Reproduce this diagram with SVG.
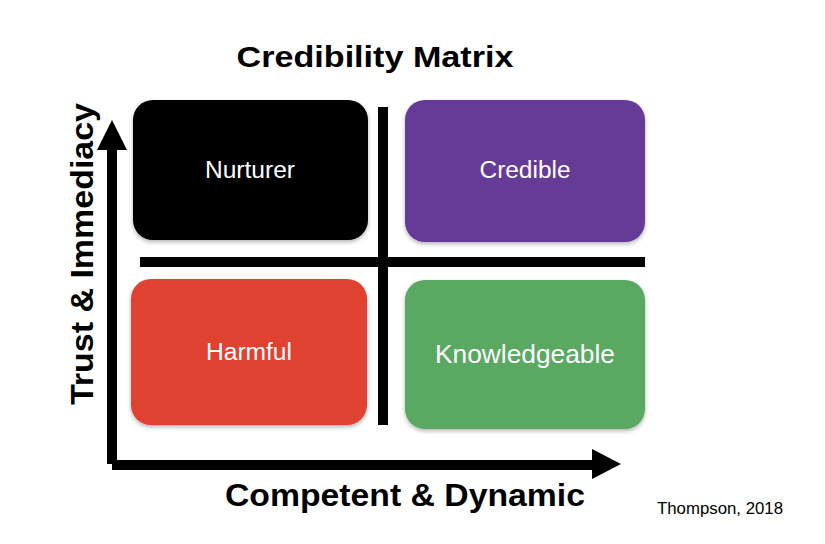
<svg xmlns="http://www.w3.org/2000/svg" width="825" height="544" viewBox="0 0 825 544">
<defs>
<style>
.box{stroke:none;filter:url(#sh)}
.lbl{font-family:"Liberation Sans",Arial,sans-serif;fill:#fff;text-anchor:middle}
.ax{font-family:"Liberation Sans",Arial,sans-serif;font-weight:bold;fill:#000;text-anchor:middle}
.ln{stroke:#000;stroke-width:10;fill:none}
</style>
<filter id="sh" x="-10%" y="-10%" width="120%" height="130%">
<feGaussianBlur in="SourceAlpha" stdDeviation="2"/>
<feOffset dy="2" result="b"/>
<feComponentTransfer><feFuncA type="linear" slope="0.3"/></feComponentTransfer>
<feMerge><feMergeNode/><feMergeNode in="SourceGraphic"/></feMerge>
</filter>
</defs>
<rect width="825" height="544" fill="#fff"/>
<text class="ax" x="375" y="67" font-size="30" textLength="277" lengthAdjust="spacingAndGlyphs">Credibility Matrix</text>
<g id="connectors">
<line class="ln" x1="112" y1="148" x2="112" y2="464"/>
<polygon points="112,120 97,150 127,150" fill="#000"/>
<line class="ln" x1="112" y1="465" x2="595" y2="465"/>
<polygon points="621,464 592,449 592,479" fill="#000"/>
<line class="ln" x1="383" y1="107" x2="383" y2="425"/>
<line class="ln" x1="140" y1="262" x2="645" y2="262"/>
</g>
<g id="nurturer">
<rect class="box" x="133" y="100" width="235" height="140" rx="20" fill="#000"/>
<text class="lbl" x="250" y="178" font-size="23" textLength="90" lengthAdjust="spacingAndGlyphs">Nurturer</text>
</g>
<g id="credible">
<rect class="box" x="405" y="100" width="240" height="142" rx="20" fill="#663a98"/>
<text class="lbl" x="525" y="178" font-size="23" textLength="91" lengthAdjust="spacingAndGlyphs">Credible</text>
</g>
<g id="harmful">
<rect class="box" x="131" y="279" width="236" height="146" rx="20" fill="#e04233"/>
<text class="lbl" x="249" y="360" font-size="23" textLength="86" lengthAdjust="spacingAndGlyphs">Harmful</text>
</g>
<g id="knowledgeable">
<rect class="box" x="405" y="280" width="240" height="149" rx="20" fill="#5aa964"/>
<text class="lbl" x="525" y="363" font-size="25" textLength="180" lengthAdjust="spacingAndGlyphs">Knowledgeable</text>
</g>
<text class="ax" transform="translate(93,254) rotate(-90)" x="0" y="0" font-size="31" textLength="302" lengthAdjust="spacingAndGlyphs">Trust &amp; Immediacy</text>
<text class="ax" x="405" y="506" font-size="31" textLength="360" lengthAdjust="spacingAndGlyphs">Competent &amp; Dynamic</text>
<text x="720" y="514" font-family="'Liberation Sans',Arial,sans-serif" font-size="16" fill="#000" text-anchor="middle" textLength="126" lengthAdjust="spacingAndGlyphs">Thompson, 2018</text>
</svg>
